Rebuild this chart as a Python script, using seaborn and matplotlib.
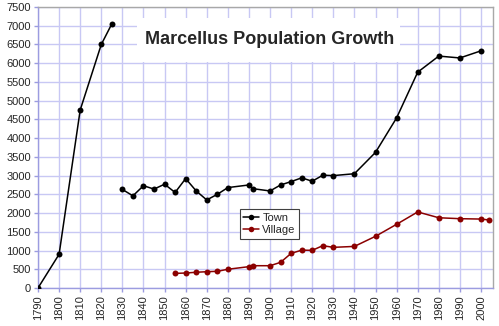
import matplotlib
matplotlib.use("Agg")
import matplotlib.pyplot as plt
from matplotlib.lines import Line2D
from matplotlib.patches import Rectangle
import seaborn as sns
import pandas as pd

# ---- data ----
town_early_years = [1790, 1800, 1810, 1820, 1825]
town_early_pop = [0, 900, 4750, 6500, 7050]

town_years = [1830, 1835, 1840, 1845, 1850, 1855, 1860, 1865, 1870, 1875, 1880,
              1890, 1892, 1900, 1905, 1910, 1915, 1920, 1925, 1930, 1940, 1950,
              1960, 1970, 1980, 1990, 2000]
town_pop = [2630, 2460, 2730, 2640, 2770, 2550, 2920, 2590, 2350, 2500, 2680,
            2750, 2650, 2590, 2750, 2840, 2940, 2850, 3010, 3000, 3050, 3620,
            4540, 5760, 6190, 6140, 6330]

village_years = [1855, 1860, 1865, 1870, 1875, 1880, 1890, 1892, 1900, 1905,
                 1910, 1915, 1920, 1925, 1930, 1940, 1950, 1960, 1970, 1980,
                 1990, 2000, 2004]
village_pop = [390, 400, 420, 435, 445, 500, 570, 595, 595, 685,
               925, 1010, 1005, 1130, 1085, 1110, 1380, 1700, 2030, 1875,
               1850, 1840, 1815]

series_names = ["Town", "Village"]
colors = {"Town": "#000000", "Village": "#8B0000"}
x_ticks = list(range(1790, 2001, 10))
y_ticks = list(range(0, 7501, 500))
title = "Marcellus Population Growth"

df = pd.concat([
    pd.DataFrame({"year": town_early_years, "population": town_early_pop,
                  "series": "Town", "segment": "town_a"}),
    pd.DataFrame({"year": town_years, "population": town_pop,
                  "series": "Town", "segment": "town_b"}),
    pd.DataFrame({"year": village_years, "population": village_pop,
                  "series": "Village", "segment": "village"}),
], ignore_index=True)

sns.set_style("white")
plt.rcParams["font.family"] = ["Liberation Sans", "DejaVu Sans"]

fig = plt.figure(figsize=(4.99, 3.26), dpi=100)
ax = fig.add_axes([38/499, 1 - 288/326, 455/499, 281/326])

grid_c = "#c8c8f4"
ax.set_axisbelow(True)
ax.grid(True, color=grid_c, linewidth=1.0)

ax.add_patch(Rectangle((0.2176, 0.804), 0.578, 0.157, transform=ax.transAxes,
                       facecolor="white", edgecolor="none", zorder=1))

sns.lineplot(data=df, x="year", y="population", hue="series", units="segment",
             estimator=None, sort=False, palette=colors, marker="o",
             markersize=4.3, markeredgewidth=0, linewidth=1.1, legend=False,
             ax=ax, zorder=3)

ax.set_xlim(1790, 2005.7)
ax.set_ylim(0, 7500)
ax.set_xticks(x_ticks)
ax.set_yticks(y_ticks)
ax.set_xticklabels([str(v) for v in x_ticks], rotation=90, fontsize=8)
ax.set_yticklabels([str(v) for v in y_ticks], fontsize=8)
ax.tick_params(axis="both", length=3, width=1, color="#9c9ce0", pad=2,
               bottom=True, left=True)
ax.set_xlabel("")
ax.set_ylabel("")

for side in ["left", "bottom"]:
    ax.spines[side].set_color("#9c9ce0")
    ax.spines[side].set_linewidth(1.0)
for side in ["top", "right"]:
    ax.spines[side].set_color("#a8a8a8")
    ax.spines[side].set_linewidth(1.0)

ax.text(0.508, 0.883, title, transform=ax.transAxes, ha="center", va="center",
        fontsize=13, fontweight="bold", zorder=4)

handles = [Line2D([], [], color=colors[s], marker="o", markersize=4,
                  markeredgewidth=0, linewidth=1.1) for s in series_names]
leg = ax.legend(handles, series_names, loc="center",
                bbox_to_anchor=(0.509, 0.228), fontsize=8, frameon=True,
                fancybox=False, edgecolor="#404040", framealpha=1,
                handlelength=1.4, handletextpad=0.3, borderpad=0.3,
                labelspacing=0.25, borderaxespad=0)
leg.get_frame().set_linewidth(0.8)

fig.savefig("out.png", dpi=100)
